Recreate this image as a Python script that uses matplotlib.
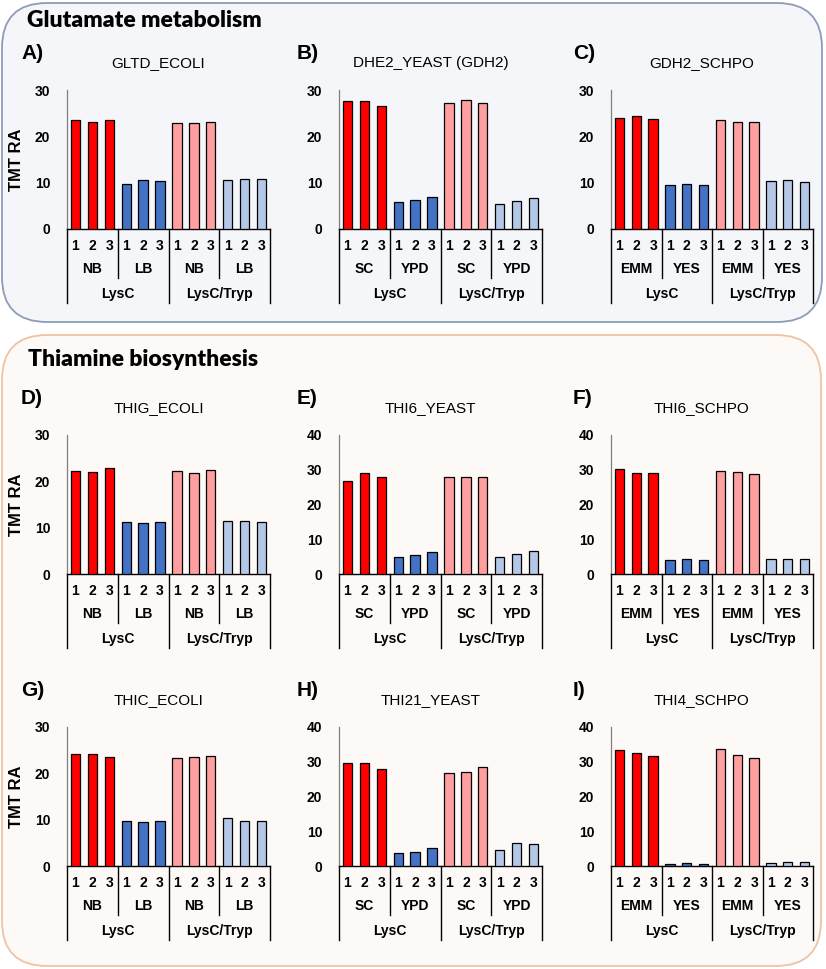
import numpy as np
import matplotlib.pyplot as plt
from matplotlib.patches import FancyBboxPatch
from matplotlib.transforms import blended_transform_factory

plt.rcParams['font.family'] = ['Liberation Sans', 'DejaVu Sans']

# ---- data -------------------------------------------------------------
reps = ['1', '2', '3']
digests = ['LysC', 'LysC/Tryp']

letters = ['A)', 'B)', 'C)', 'D)', 'E)', 'F)', 'G)', 'H)', 'I)']
titles = ['GLTD_ECOLI', 'DHE2_YEAST (GDH2)', 'GDH2_SCHPO',
          'THIG_ECOLI', 'THI6_YEAST', 'THI6_SCHPO',
          'THIC_ECOLI', 'THI21_YEAST', 'THI4_SCHPO']
media = [['NB', 'LB'], ['SC', 'YPD'], ['EMM', 'YES']] * 3
ymax = [30, 30, 30, 30, 40, 40, 30, 40, 40]

# order: LysC m1 (1,2,3), LysC m2, LysC/Tryp m1, LysC/Tryp m2
gltd_ecoli = [23.5, 23.1, 23.6, 9.7, 10.6, 10.4, 22.9, 22.8, 23.1, 10.6, 10.7, 10.7]
dhe2_yeast = [27.6, 27.6, 26.5, 5.8, 6.3, 6.8, 27.2, 27.9, 27.3, 5.5, 6.0, 6.6]
gdh2_schpo = [23.9, 24.3, 23.7, 9.6, 9.8, 9.5, 23.5, 23.1, 23.2, 10.4, 10.6, 10.1]
thig_ecoli = [22.3, 22.0, 22.9, 11.2, 11.1, 11.2, 22.2, 21.8, 22.5, 11.5, 11.5, 11.3]
thi6_yeast = [26.7, 29.2, 28.0, 5.0, 5.4, 6.3, 27.8, 28.0, 27.8, 5.0, 5.7, 6.5]
thi6_schpo = [30.2, 29.0, 29.0, 4.0, 4.4, 4.0, 29.7, 29.4, 28.8, 4.2, 4.4, 4.4]
thic_ecoli = [24.1, 24.2, 23.6, 9.7, 9.4, 9.7, 23.4, 23.6, 23.8, 10.3, 9.8, 9.8]
thi21_yeast = [29.5, 29.5, 28.0, 3.7, 4.1, 5.1, 26.7, 27.0, 28.6, 4.6, 6.7, 6.2]
thi4_schpo = [33.5, 32.6, 31.6, 0.5, 0.9, 0.7, 33.7, 31.8, 31.2, 0.9, 1.1, 1.2]
values = [gltd_ecoli, dhe2_yeast, gdh2_schpo, thig_ecoli, thi6_yeast,
          thi6_schpo, thic_ecoli, thi21_yeast, thi4_schpo]

colors = ['#ff0000'] * 3 + ['#4472c4'] * 3 + ['#ff9f9f'] * 3 + ['#b4c7e7'] * 3

W, H = 826, 969
fig = plt.figure(figsize=(W / 100, H / 100), dpi=100)

# background with pixel coordinates for the two rounded boxes
bg = fig.add_axes([0, 0, 1, 1])
bg.set_xlim(0, W)
bg.set_ylim(H, 0)
bg.axis('off')
bg.add_patch(FancyBboxPatch((2, 3), 820, 319, boxstyle='round,pad=0,rounding_size=45',
                            fc='#f4f6fa', ec='#8e9cb8', lw=1.3))
bg.add_patch(FancyBboxPatch((2, 335), 819, 631, boxstyle='round,pad=0,rounding_size=45',
                            fc='#fdf9f7', ec='#efc3a2', lw=1.3))
bg.text(27, 20, 'Glutamate metabolism', family='Lato', fontweight='heavy',
        fontsize=16.5, va='center', ha='left')
bg.text(28, 360, 'Thiamine biosynthesis', family='Lato', fontweight='heavy',
        fontsize=16.5, va='center', ha='left')

col_x = [(67, 270), (339, 542), (611, 813)]
row_y = [(90, 229), (435, 574), (727, 866)]
letter_dx = [-46, -42, -38]
title_dy = [-27, -27, -27]

fs = 10
for i in range(9):
    r, c = divmod(i, 3)
    x0, x1 = col_x[c]
    y0, y1 = row_y[r]
    ax = fig.add_axes([x0 / W, 1 - y1 / H, (x1 - x0) / W, (y1 - y0) / H])
    ax.patch.set_alpha(0)
    xs = np.arange(12)
    ax.bar(xs, values[i], width=0.55, color=colors, edgecolor='black', lw=0.9, zorder=3)
    ax.set_xlim(-0.5, 11.5)
    ax.set_ylim(0, ymax[i])
    ax.set_yticks(np.arange(0, ymax[i] + 1, 10))
    ax.tick_params(axis='y', length=0, pad=12, labelsize=fs)
    for t in ax.get_yticklabels():
        t.set_fontweight('bold')
    ax.set_xticks([])
    ax.spines['top'].set_visible(False)
    ax.spines['right'].set_visible(False)
    ax.spines['left'].set_color('#7f7f7f')
    ax.spines['left'].set_linewidth(0.9)
    ax.spines['bottom'].set_color('black')
    ax.spines['bottom'].set_linewidth(1.0)
    if c == 0:
        ax.set_ylabel('TMT RA', fontweight='bold', fontsize=12, labelpad=8)

    # panel letter and title
    ax.text(x0 + letter_dx[c], y0 - 37, letters[i], transform=bg.transData,
            fontsize=15, fontweight='bold', ha='left', va='center')
    ax.text((x0 + x1) / 2 - 10, y0 + title_dy[r], titles[i], transform=bg.transData,
            fontsize=11, ha='center', va='center')

    # multi-level category axis
    hpx = y1 - y0
    tr = blended_transform_factory(ax.transData, ax.transAxes)
    for k in range(12):
        ax.text(k, -17 / hpx, reps[k % 3], transform=tr, ha='center', va='center',
                fontsize=fs, fontweight='bold')
    for g in range(4):
        ax.text(g * 3 + 1, -40 / hpx, media[i][g % 2], transform=tr, ha='center',
                va='center', fontsize=fs, fontweight='bold')
    for d in range(2):
        ax.text(d * 6 + 2.5, -65 / hpx, digests[d], transform=tr, ha='center',
                va='center', fontsize=fs, fontweight='bold')
    for xb in [-0.5, 5.5, 11.5]:
        ax.plot([xb, xb], [0, -74 / hpx], transform=tr, color='black', lw=1.0, clip_on=False)
    for xb in [2.5, 8.5]:
        ax.plot([xb, xb], [0, -49 / hpx], transform=tr, color='black', lw=1.0, clip_on=False)

fig.savefig('out.png', dpi=100)
